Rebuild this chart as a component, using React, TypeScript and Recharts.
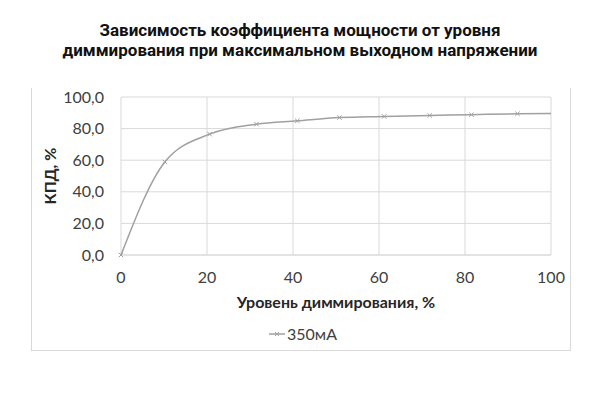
import React from 'react';
import { LineChart, Line, XAxis, YAxis, CartesianGrid, Legend } from 'recharts';

const dimming = [0, 10.2, 20.6, 31.5, 41, 50.8, 61.2, 71.8, 81.5, 92.2, 100];
const efficiency350 = [0, 58.9, 76.5, 82.8, 84.9, 87.0, 87.7, 88.3, 88.8, 89.4, 89.6];
const xTicks = [0, 20, 40, 60, 80, 100];
const yTicks = [0, 20, 40, 60, 80, 100];
const seriesName = '350мА';
const titleLines = [
  'Зависимость коэффициента мощности от уровня',
  'диммирования при максимальном выходном напряжении',
];
const xTitle = 'Уровень диммирования, %';
const yTitle = 'КПД, %';

const data = dimming.map((x, i) => ({ x, y: efficiency350[i] }));

const LINE = '#a0a0a0';
const GRID = '#d9d9d9';
const TXT = '#404040';
const FONT = 'Lato, "Open Sans", sans-serif';

const XDot = (props: any) => {
  const { cx, cy, index } = props;
  if (index === data.length - 1 || cx == null) return <g key={`d${index}`} />;
  const s = 2.2;
  return (
    <g key={`d${index}`} stroke={LINE} strokeWidth={1}>
      <line x1={cx - s} y1={cy - s} x2={cx + s} y2={cy + s} />
      <line x1={cx - s} y1={cy + s} x2={cx + s} y2={cy - s} />
    </g>
  );
};

const LegendContent = () => (
  <div style={{ display: 'flex', alignItems: 'center', fontFamily: FONT, fontSize: 16, color: TXT }}>
    <svg width={17} height={10} style={{ marginRight: 1 }}>
      <line x1={0} y1={5} x2={16} y2={5} stroke={LINE} strokeWidth={1.5} />
      <line x1={6} y1={3} x2={10} y2={7} stroke={LINE} strokeWidth={1} />
      <line x1={6} y1={7} x2={10} y2={3} stroke={LINE} strokeWidth={1} />
    </svg>
    <span>{seriesName}</span>
  </div>
);

export default function App() {
  return (
    <div style={{ position: 'absolute', left: 0, top: 0, width: 600, height: 400, background: '#fff' }}>
      <div
        style={{
          position: 'absolute',
          left: 0,
          top: 20,
          width: 600,
          textAlign: 'center',
          fontFamily: 'Roboto, sans-serif',
          fontWeight: 700,
          fontSize: 17,
          lineHeight: '20px',
          color: '#111',
        }}
      >
        {titleLines.map((t) => (
          <div key={t}>{t}</div>
        ))}
      </div>
      <div
        style={{
          position: 'absolute',
          left: 31,
          top: 88,
          width: 540,
          height: 263,
          borderLeft: `1px solid ${GRID}`,
          borderRight: `1px solid ${GRID}`,
          borderBottom: `1px solid ${GRID}`,
          boxSizing: 'border-box',
        }}
      />
      <LineChart
        width={600}
        height={400}
        data={data}
        margin={{ top: 97, right: 49, bottom: 85, left: 31 }}
        style={{ position: 'absolute', left: 0, top: 0, fontFamily: FONT }}
      >
        <CartesianGrid stroke={GRID} strokeWidth={1} verticalValues={xTicks} horizontalValues={yTicks} />
        <XAxis
          dataKey="x"
          type="number"
          domain={[0, 100]}
          ticks={xTicks}
          height={60}
          tickSize={0}
          tickMargin={17}
          axisLine={{ stroke: GRID }}
          tick={{ fill: TXT, fontSize: 16 }}
          label={{
            content: (p: any) => {
              const vb = p.viewBox;
              return (
                <text
                  x={vb.x + vb.width / 2}
                  y={vb.y + 46}
                  textAnchor="middle"
                  dominantBaseline="central"
                  fill="#262626"
                  fontWeight={700}
                  fontSize={16}
                  fontFamily={FONT}
                >
                  {xTitle}
                </text>
              );
            },
          }}
        />
        <YAxis
          type="number"
          domain={[0, 100]}
          ticks={yTicks}
          width={90}
          tickSize={0}
          tickMargin={17}
          axisLine={false}
          tick={{ fill: TXT, fontSize: 16 }}
          tickFormatter={(v: number) => v.toFixed(1).replace('.', ',')}
          label={{
            content: (p: any) => {
              const vb = p.viewBox;
              const cx = vb.x + 18;
              const cy = vb.y + vb.height / 2;
              return (
                <text
                  x={cx}
                  y={cy}
                  transform={`rotate(-90 ${cx} ${cy})`}
                  textAnchor="middle"
                  dominantBaseline="central"
                  fill="#262626"
                  fontWeight={700}
                  fontSize={16}
                  fontFamily={FONT}
                >
                  {yTitle}
                </text>
              );
            },
          }}
        />
        <Legend
          layout="horizontal"
          verticalAlign="middle"
          align="center"
          content={<LegendContent />}
          wrapperStyle={{ top: 324, left: 269, width: 'auto', height: 20 }}
        />
        <Line
          type="monotone"
          dataKey="y"
          name={seriesName}
          stroke={LINE}
          strokeWidth={1.5}
          dot={<XDot />}
          activeDot={false}
          isAnimationActive={false}
        />
      </LineChart>
    </div>
  );
}
